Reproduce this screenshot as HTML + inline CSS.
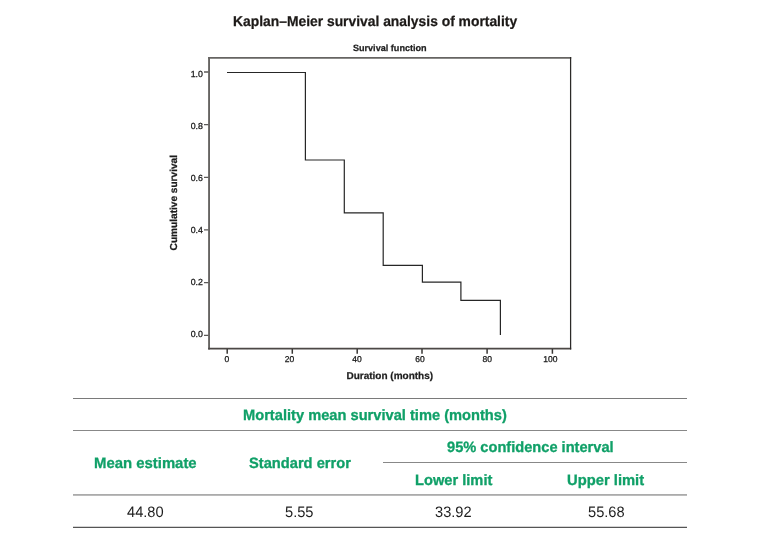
<!DOCTYPE html>
<html><head><meta charset="utf-8">
<style>
html,body{margin:0;padding:0;background:#fff;}
body{width:760px;height:541px;position:relative;overflow:hidden;font-family:"Liberation Sans",sans-serif;}
.t{position:absolute;white-space:nowrap;line-height:1;text-rendering:geometricPrecision;}
.g{color:#10a068;font-weight:bold;font-size:15px;transform-origin:0 0;-webkit-text-stroke:0.3px #10a068;}
.d{color:#1e1e1e;font-size:15.2px;transform-origin:0 0;transform:scaleX(0.965);}
.ln{position:absolute;height:1px;}
svg{position:absolute;left:0;top:0;}
svg text{font-family:"Liberation Sans",sans-serif;fill:#1c1c1c;text-rendering:geometricPrecision;}
</style></head><body>
<div class="t" id="title" style="left:232.9px;top:14.7px;font-size:14.3px;transform-origin:0 0;transform:scaleX(0.969);font-weight:bold;color:#1c1917;-webkit-text-stroke:0.25px #1c1917;">Kaplan–Meier survival analysis of mortality</div>
<svg width="760" height="400" viewBox="0 0 760 400">
<g fill="none" stroke="#555250">
<path d="M209.05 57 V349.6" stroke="#5e5c5a" stroke-width="1.8"/>
<path d="M208.2 348.7 H571.2" stroke="#4c4846" stroke-width="1.8"/>
<path d="M208.2 57.85 H571.2" stroke="#666462" stroke-width="1.8"/>
<path d="M570.6 57 V349.6" stroke="#2c2a28" stroke-width="1.25"/>
<path stroke="#5c5a58" stroke-width="1.3" d="M204 72H208.5M204 124.6H208.5M204 177.3H208.5M204 229.9H208.5M204 282.6H208.5M204 335.4H208.5"/>
<path stroke="#3a3836" stroke-width="1.5" d="M227.2 349V353.8M292.3 349V353.8M357.2 349V353.8M422 349V353.8M487.1 349V353.8M552.4 349V353.8"/>
<path d="M227 72.5H305.4V160H344.3V212.9H383.2V265.4H422.4V282.1H460.9V300.3H500.4V335" stroke="#262626" stroke-width="1.2"/>
</g>
<g font-size="8.8" text-anchor="end" fill="#0c0c0c" stroke="#0c0c0c" stroke-width="0.25">
<text x="202.9" y="77">1.0</text><text x="202.9" y="129">0.8</text><text x="202.9" y="181">0.6</text><text x="202.9" y="233">0.4</text><text x="202.9" y="285">0.2</text><text x="202.9" y="337">0.0</text>
</g>
<g font-size="8.5" text-anchor="middle" fill="#0c0c0c" stroke="#0c0c0c" stroke-width="0.25">
<text x="226.9" y="362">0</text><text x="289.4" y="362">20</text><text x="357" y="362">40</text><text x="420" y="362">60</text><text x="487.2" y="362">80</text><text x="550.4" y="362">100</text>
</g>
<text id="sf" stroke="#222" stroke-width="0.25" x="389.8" y="50.5" font-size="9.1" font-weight="bold" text-anchor="middle">Survival function</text>
<text id="dm" stroke="#222" stroke-width="0.25" x="389.8" y="378.8" font-size="10" font-weight="bold" text-anchor="middle">Duration (months)</text>
<text id="cs" stroke="#222" stroke-width="0.25" transform="translate(177.2,202.7) rotate(-90)" font-size="10.1" font-weight="bold" text-anchor="middle">Cumulative survival</text>
</svg>
<div class="ln" style="left:73px;width:614px;top:398px;background:#7a7a7a;"></div>
<div class="ln" style="left:73px;width:614px;top:430px;background:#888;"></div>
<div class="ln" style="left:383px;width:304px;top:462px;background:#888;"></div>
<div class="ln" style="left:73px;width:614px;top:494px;height:2px;background:linear-gradient(#ababab 50%,#bbb 50%);"></div>
<div class="ln" style="left:73px;width:614px;top:526px;height:2px;background:linear-gradient(#d4d4d4 50%,#555 50%);"></div>
<div class="t g" id="h0" style="left:243.25px;top:408.05px;transform:scaleX(0.977);">Mortality mean survival time (months)</div>
<div class="t g" id="h1" style="left:93.7px;top:455.6px;transform:scaleX(0.993);">Mean estimate</div>
<div class="t g" id="h2" style="left:248.7px;top:455.6px;transform:scaleX(0.9777);">Standard error</div>
<div class="t g" id="h3" style="left:446.7px;top:439.9px;transform:scaleX(0.9749);">95% confidence interval</div>
<div class="t g" id="h4" style="left:414.5px;top:472.95px;transform:scaleX(0.977);">Lower limit</div>
<div class="t g" id="h5" style="left:566.5px;top:472.95px;transform:scaleX(0.9846);">Upper limit</div>
<div class="t d" id="d1" style="left:126.5px;top:505px;">44.80</div>
<div class="t d" id="d2" style="left:284.9px;top:505px;">5.55</div>
<div class="t d" id="d3" style="left:435.4px;top:505px;">33.92</div>
<div class="t d" id="d4" style="left:587.6px;top:505px;">55.68</div>
</body></html>
